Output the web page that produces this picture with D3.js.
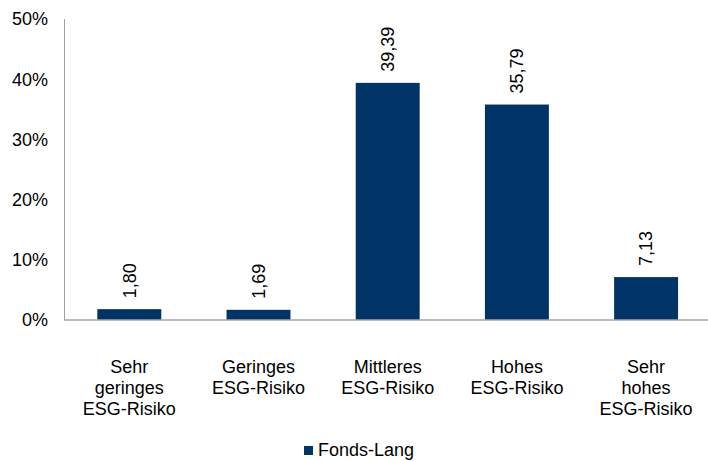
<!DOCTYPE html>
<html><head><meta charset="utf-8">
<script src="https://cdn.jsdelivr.net/npm/d3@7"></script>
<style>body{margin:0;background:#fff}svg{display:block}text{font-family:"Liberation Sans",Arial,sans-serif;fill:#000}</style>
</head><body><svg id="c" width="708" height="461"></svg>
<script>
const categories = [["Sehr","geringes","ESG-Risiko"],["Geringes","ESG-Risiko"],["Mittleres","ESG-Risiko"],["Hohes","ESG-Risiko"],["Sehr","hohes","ESG-Risiko"]];
const values = [1.80, 1.69, 39.39, 35.79, 7.13];
const yTicks = [0, 10, 20, 30, 40, 50];
const seriesName = "Fonds-Lang";

const svg = d3.select("#c");
const x = d3.scaleBand().domain(d3.range(categories.length)).range([64.7, 710.7]).paddingInner(0.505).paddingOuter(0.2525);
const y = d3.scaleLinear().domain([0, 50]).range([320, 19]);
const color = "#003366";

// y axis line
svg.append("line").attr("x1",64.5).attr("x2",64.5).attr("y1",y(50)).attr("y2",y(0)).attr("stroke","#9aa3ad").attr("stroke-width",1);
// tick labels
svg.selectAll(".yt").data(yTicks).enter().append("text")
  .attr("x",48).attr("y",d=>y(d)).attr("dy","0.35em").attr("text-anchor","end")
  .style("font-size","18px").text(d=>d+"%");

// bars
svg.selectAll(".bar").data(values).enter().append("rect")
  .attr("x",(d,i)=>x(i)).attr("width",x.bandwidth())
  .attr("y",d=>y(d)).attr("height",d=>y(0)-y(d)).attr("fill",color);

// baseline
svg.append("line").attr("x1",64).attr("x2",708).attr("y1",320).attr("y2",320).attr("stroke","#a6a6a6").attr("stroke-width",1.5);

// value labels
const fmt = v => v.toFixed(2).replace(".", ",");
svg.selectAll(".vl").data(values).enter().append("text")
  .attr("transform",(d,i)=>`translate(${x(i)+x.bandwidth()/2},${y(d)-11}) rotate(-90)`)
  .attr("dy","0.35em").attr("text-anchor","start")
  .style("font-size","18px").text(fmt);

// category labels
categories.forEach((lines,i)=>{
  const t = svg.append("text").attr("text-anchor","middle").style("font-size","18px")
    .attr("x", x(i)+x.bandwidth()/2).attr("y",373);
  lines.forEach((l,j)=>t.append("tspan").attr("x",x(i)+x.bandwidth()/2).attr("y",373+j*21).text(l));
});

// legend
svg.append("rect").attr("x",304).attr("y",446).attr("width",9).attr("height",9).attr("fill",color);
svg.append("text").attr("x",318).attr("y",456).style("font-size","18px").text(seriesName);
</script></body></html>
